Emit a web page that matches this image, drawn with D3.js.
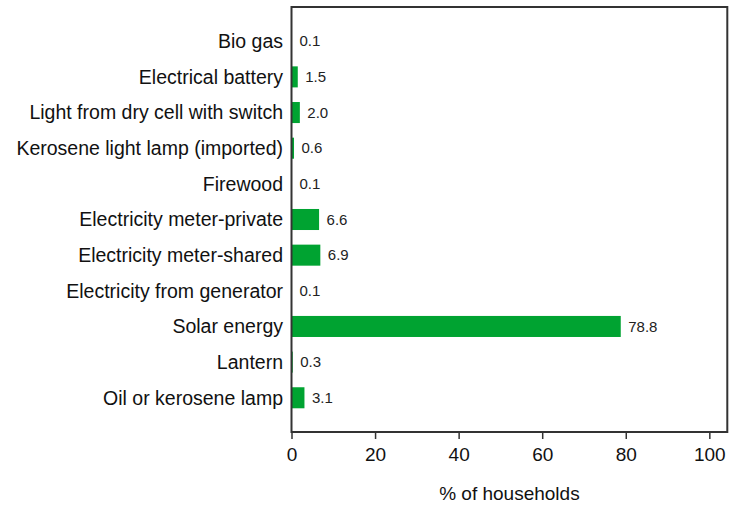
<!DOCTYPE html>
<html>
<head>
<meta charset="utf-8">
<script src="https://cdn.jsdelivr.net/npm/d3@7"></script>
<style>
    body { margin: 0; background: #fff; }
    svg { display: block; font-family: "Liberation Sans", Arial, sans-serif; }
</style>
</head>
<body>
<div id="bar"></div>
<script>
const categories = [
    "Bio gas",
    "Electrical battery",
    "Light from dry cell with switch",
    "Kerosene light lamp (imported)",
    "Firewood",
    "Electricity meter-private",
    "Electricity meter-shared",
    "Electricity from generator",
    "Solar energy",
    "Lantern",
    "Oil or kerosene lamp"
];
const values = [0.1, 1.5, 2.0, 0.6, 0.1, 6.6, 6.9, 0.1, 78.8, 0.3, 3.1];
const xTicks = [0, 20, 40, 60, 80, 100];
const xMax = 104.3;
const xTitle = "% of households";

function drawbar() {
    const width = 730;
    const height = 507;
    const margin = { top: 7, bottom: 75, left: 291.5, right: 2.7 };

    const data = categories.map((c, i) => ({ name: c, value: values[i] }));

    const svg = d3.select("#bar")
        .append("svg")
        .attr("width", width)
        .attr("height", height);

    const x = d3.scaleLinear()
        .domain([0, xMax])
        .range([margin.left, width - margin.right]);

    const y = d3.scaleBand()
        .domain(categories)
        .range([23.4, 415.6])
        .paddingInner(0.41)
        .paddingOuter(0.205);

    svg.selectAll("rect.bar")
        .data(data)
        .enter()
        .append("rect")
        .attr("class", "bar")
        .attr("x", x(0))
        .attr("y", d => y(d.name))
        .attr("width", d => x(d.value) - x(0))
        .attr("height", y.bandwidth())
        .attr("fill", "#00a331");

    svg.selectAll("text.val")
        .data(data)
        .enter()
        .append("text")
        .attr("class", "val")
        .attr("x", d => x(d.value) + 7.5)
        .attr("y", d => y(d.name) + y.bandwidth() / 2)
        .attr("dy", "0.35em")
        .style("font-size", "15px")
        .attr("fill", "#222")
        .text(d => d.value.toFixed(1));

    svg.selectAll("text.cat")
        .data(data)
        .enter()
        .append("text")
        .attr("class", "cat")
        .attr("x", margin.left - 8.5)
        .attr("y", d => y(d.name) + y.bandwidth() / 2)
        .attr("dy", "0.35em")
        .attr("text-anchor", "end")
        .style("font-size", "19.5px")
        .attr("fill", "#111")
        .text(d => d.name);

    // x axis
    const xAxis = svg.append("g")
        .attr("transform", `translate(0,${height - margin.bottom})`)
        .call(d3.axisBottom(x).tickValues(xTicks).tickSize(7).tickSizeOuter(0).tickPadding(9));
    xAxis.select(".domain").remove();
    xAxis.selectAll("line").attr("stroke", "#333").attr("stroke-width", 1.5);
    xAxis.selectAll("text")
        .style("font-size", "19px")
        .attr("fill", "#111")
        .style("font-family", "'Liberation Sans', Arial, sans-serif");

    // box around plot
    svg.append("rect")
        .attr("x", x(0))
        .attr("y", margin.top)
        .attr("width", x(xMax) - x(0))
        .attr("height", height - margin.bottom - margin.top)
        .attr("fill", "none")
        .attr("stroke", "#333")
        .attr("stroke-width", 2);

    svg.append("text")
        .attr("x", (x(0) + x(100)) / 2 + 9)
        .attr("y", 500)
        .attr("text-anchor", "middle")
        .style("font-size", "19px")
        .attr("fill", "#111")
        .text(xTitle);
}

document.addEventListener("DOMContentLoaded", function(event) {
    drawbar();
});
</script>
</body>
</html>
